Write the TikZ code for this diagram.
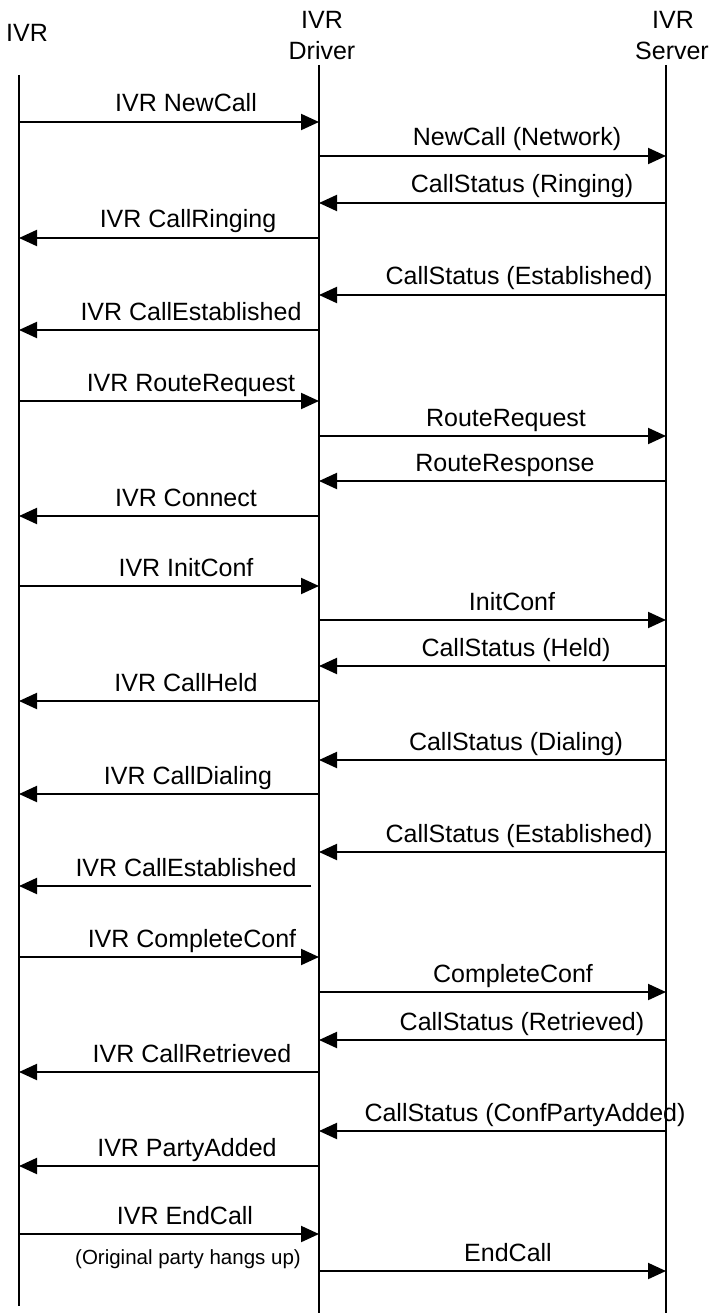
\documentclass[tikz,border=0pt]{standalone}
\usepackage{fontspec}
\setmainfont{Liberation Sans}
\usetikzlibrary{arrows.meta}
\tikzset{
  life/.style={line width=2pt},
  msg/.style={line width=2pt,-{Triangle[length=18pt,width=16pt]}},
  lbl/.style={inner sep=0pt,anchor=base,font=\fontsize{25}{30}\selectfont},
  note/.style={inner sep=0pt,anchor=center,font=\fontsize{20.5}{24}\selectfont},
  head/.style={inner sep=0pt,anchor=center,font=\fontsize{25}{30}\selectfont}
}
\newcommand{\mymsg}[6]{%
  \coordinate (m#1s) at (#3,#2);
  \coordinate (m#1e) at (#4,#2);
  \draw[msg] (m#1s) -- (m#1e);
  \node[lbl] (l#1) at (#5,#2-10) {#6};}
\begin{document}
\begin{tikzpicture}[x=1pt,y=-1pt]
\useasboundingbox (0,0) rectangle (719,1313);
% headers
\node[head] (hivr) at (27,33) {IVR};
\node[head] (hdrv1) at (322,20) {IVR};
\node[head] (hdrv2) at (322,51) {Driver};
\node[head] (hsrv1) at (673,20) {IVR};
\node[head] (hsrv2) at (672,51) {Server};
% lifelines
\coordinate (ivrT) at (19,75);  \coordinate (ivrB) at (19,1306);
\coordinate (drvT) at (319,65); \coordinate (drvB) at (319,1313);
\coordinate (srvT) at (666,65); \coordinate (srvB) at (666,1313);
\draw[life] (ivrT) -- (ivrB);
\draw[life] (drvT) -- (drvB);
\draw[life] (srvT) -- (srvB);
% messages
\mymsg{1}{122}{19}{319}{186}{IVR NewCall}
\mymsg{2}{156}{319}{666}{517}{NewCall (Network)}
\mymsg{3}{203}{666}{319}{522}{CallStatus (Ringing)}
\mymsg{4}{238}{319}{19}{188}{IVR CallRinging}
\mymsg{5}{295}{666}{319}{519}{CallStatus (Established)}
\mymsg{6}{330}{319}{19}{191}{IVR CallEstablished}
\mymsg{7}{401}{19}{319}{191}{IVR RouteRequest}
\mymsg{8}{436}{319}{666}{506}{RouteRequest}
\mymsg{9}{481}{666}{319}{505}{RouteResponse}
\mymsg{10}{516}{319}{19}{186}{IVR Connect}
\mymsg{11}{586}{19}{319}{186}{IVR InitConf}
\mymsg{12}{620}{319}{666}{512}{InitConf}
\mymsg{13}{666}{666}{319}{516}{CallStatus (Held)}
\mymsg{14}{701}{319}{19}{186}{IVR CallHeld}
\mymsg{15}{760}{666}{319}{516}{CallStatus (Dialing)}
\mymsg{16}{794}{319}{19}{188}{IVR CallDialing}
\mymsg{17}{852}{666}{319}{519}{CallStatus (Established)}
\mymsg{18}{886}{311}{19}{186}{IVR CallEstablished}
\mymsg{19}{957}{19}{319}{192}{IVR CompleteConf}
\mymsg{20}{992}{319}{666}{513}{CompleteConf}
\mymsg{21}{1040}{666}{319}{522}{CallStatus (Retrieved)}
\mymsg{22}{1072}{319}{19}{192}{IVR CallRetrieved}
\mymsg{23}{1131}{666}{319}{525}{CallStatus (ConfPartyAdded)}
\mymsg{24}{1166}{319}{19}{187}{IVR PartyAdded}
\mymsg{25}{1234}{19}{319}{185}{IVR EndCall}
\node[note] (n25) at (188,1259) {(Original party hangs up)};
\mymsg{27}{1271}{319}{666}{508}{EndCall}
\end{tikzpicture}
\end{document}
